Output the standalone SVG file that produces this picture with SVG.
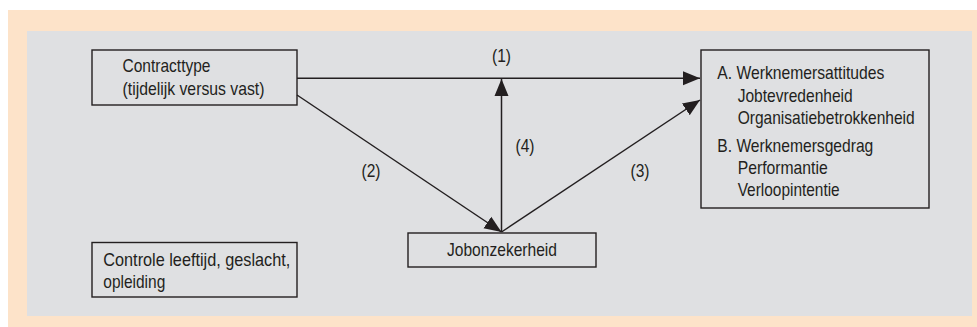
<svg xmlns="http://www.w3.org/2000/svg" width="977" height="327" viewBox="0 0 977 327">
  <style>
    .box { fill: none; stroke: #231f20; stroke-width: 1.4; }
    .t { font-family: "Liberation Sans", Arial, sans-serif; font-size: 18.5px; fill: #231f20; }
    .c { text-anchor: middle; }
    .ln { stroke: #231f20; stroke-width: 1.5; fill: none; marker-end: url(#ah); }
  </style>
  <defs>
    <marker id="ah" markerUnits="userSpaceOnUse" markerWidth="18" markerHeight="15" refX="17" refY="7" orient="auto" viewBox="0 0 18 14">
      <path d="M0,0 L17,7 L0,14 z" fill="#231f20"/>
    </marker>
  </defs>
  <rect x="0" y="0" width="977" height="327" fill="#ffffff"/>
  <rect x="8" y="10" width="969" height="317" fill="#fde3c9"/>
  <rect x="27" y="31" width="945" height="285" fill="#dfe0e2"/>

  <g id="connectors">
    <line class="ln" x1="297" y1="78.3" x2="700" y2="78.3"/>
    <line class="ln" x1="297" y1="95" x2="501.5" y2="232"/>
    <line class="ln" x1="501.5" y1="232" x2="700" y2="100"/>
    <line class="ln" x1="501.5" y1="232" x2="501.5" y2="79"/>
    <text class="t c" x="501.5" y="62" textLength="19" lengthAdjust="spacingAndGlyphs">(1)</text>
    <text class="t c" x="371" y="177" textLength="19" lengthAdjust="spacingAndGlyphs">(2)</text>
    <text class="t c" x="640" y="177" textLength="19" lengthAdjust="spacingAndGlyphs">(3)</text>
    <text class="t c" x="525" y="152" textLength="19" lengthAdjust="spacingAndGlyphs">(4)</text>
  </g>

  <g id="contracttype">
    <rect class="box" x="92" y="50" width="205" height="55"/>
    <text class="t" x="122.5" y="72" textLength="88" lengthAdjust="spacingAndGlyphs">Contracttype</text>
    <text class="t" x="122.5" y="94.5" textLength="142" lengthAdjust="spacingAndGlyphs">(tijdelijk versus vast)</text>
  </g>

  <g id="uitkomsten">
    <rect class="box" x="701" y="50" width="228" height="158"/>
    <text class="t" x="717.3" y="79" textLength="167" lengthAdjust="spacingAndGlyphs">A. Werknemersattitudes</text>
    <text class="t" x="737.7" y="101.5" textLength="115" lengthAdjust="spacingAndGlyphs">Jobtevredenheid</text>
    <text class="t" x="737.7" y="123.5" textLength="177" lengthAdjust="spacingAndGlyphs">Organisatiebetrokkenheid</text>
    <text class="t" x="717.3" y="152.3" textLength="156" lengthAdjust="spacingAndGlyphs">B. Werknemersgedrag</text>
    <text class="t" x="737.7" y="174" textLength="90" lengthAdjust="spacingAndGlyphs">Performantie</text>
    <text class="t" x="737.7" y="196" textLength="102" lengthAdjust="spacingAndGlyphs">Verloopintentie</text>
  </g>

  <g id="jobonzekerheid">
    <rect class="box" x="408" y="233" width="188" height="34"/>
    <text class="t c" x="502" y="256" textLength="110" lengthAdjust="spacingAndGlyphs">Jobonzekerheid</text>
  </g>

  <g id="controle">
    <rect class="box" x="92" y="242.5" width="205" height="54.5"/>
    <text class="t" x="103.3" y="265.7" textLength="187" lengthAdjust="spacingAndGlyphs">Controle leeftijd, geslacht,</text>
    <text class="t" x="103.3" y="288.3" textLength="62" lengthAdjust="spacingAndGlyphs">opleiding</text>
  </g>
</svg>
